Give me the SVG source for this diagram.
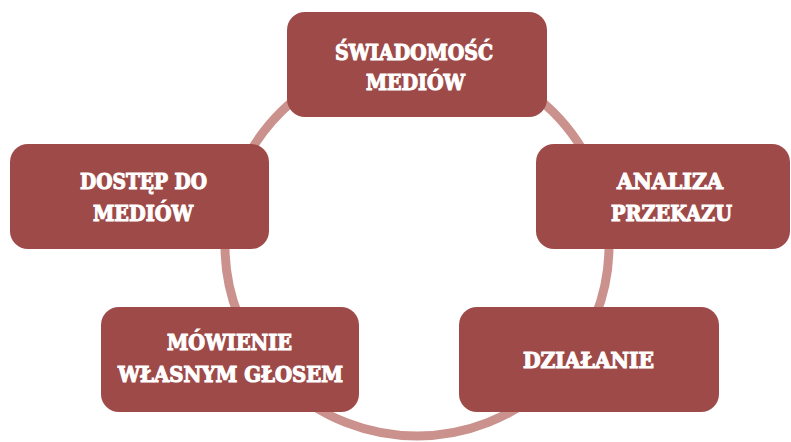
<svg xmlns="http://www.w3.org/2000/svg" width="791" height="442" viewBox="0 0 791 442">
<style>
.box{fill:#9E4A49;}
.lbl{fill:#FFFFFF;stroke:#FFFFFF;stroke-width:1.1px;stroke-linejoin:miter;font-family:"DejaVu Serif","Liberation Serif",serif;font-weight:bold;font-stretch:condensed;font-size:23px;text-anchor:middle;}
.ring{fill:none;stroke:#CB928D;stroke-width:9;}
</style>
<rect width="791" height="442" fill="#FFFFFF"/>
<g id="connectors">
<ellipse class="ring" cx="417" cy="246" rx="192" ry="190"/>
</g>
<g id="node-swiadomosc">
<rect class="box" x="287" y="12" width="260" height="105" rx="18"/>
<text class="lbl" x="414" y="60" textLength="158" lengthAdjust="spacingAndGlyphs">ŚWIADOMOŚĆ</text>
<text class="lbl" x="415.5" y="90" textLength="99" lengthAdjust="spacingAndGlyphs">MEDIÓW</text>
</g>
<g id="node-dostep">
<rect class="box" x="10" y="144" width="259" height="105" rx="18"/>
<text class="lbl" x="143.5" y="189" textLength="127" lengthAdjust="spacingAndGlyphs">DOSTĘP DO</text>
<text class="lbl" x="143" y="221" textLength="100" lengthAdjust="spacingAndGlyphs">MEDIÓW</text>
</g>
<g id="node-analiza">
<rect class="box" x="536" y="144" width="254" height="105" rx="18"/>
<text class="lbl" x="670" y="189" textLength="106" lengthAdjust="spacingAndGlyphs">ANALIZA</text>
<text class="lbl" x="671.5" y="221" textLength="121" lengthAdjust="spacingAndGlyphs">PRZEKAZU</text>
</g>
<g id="node-mowienie">
<rect class="box" x="101" y="307" width="258" height="105" rx="18"/>
<text class="lbl" x="229.5" y="350" textLength="125" lengthAdjust="spacingAndGlyphs">MÓWIENIE</text>
<text class="lbl" x="230.5" y="382" textLength="225" lengthAdjust="spacingAndGlyphs">WŁASNYM GŁOSEM</text>
</g>
<g id="node-dzialanie">
<rect class="box" x="459" y="307" width="260" height="105" rx="18"/>
<text class="lbl" x="588.5" y="368" textLength="131" lengthAdjust="spacingAndGlyphs">DZIAŁANIE</text>
</g>
</svg>
